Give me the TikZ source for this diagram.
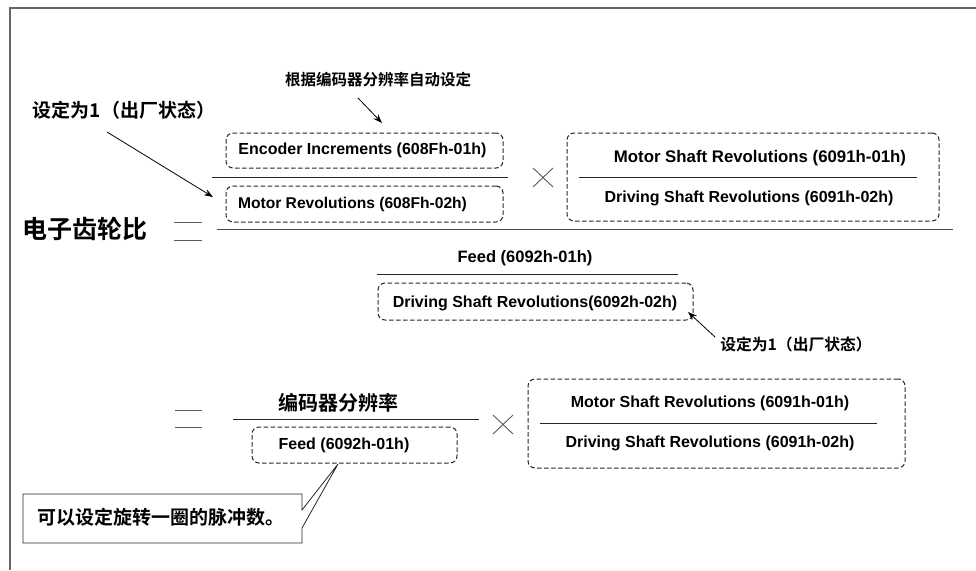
\documentclass[tikz,border=0pt]{standalone}
\usepackage{fontspec}
\setmainfont{Liberation Sans}
\newfontfamily\cjk{Noto Sans CJK SC Bold}
\usetikzlibrary{arrows.meta}
\tikzset{
  dbox/.style={draw=black!85, dashed, dash pattern=on 4.5pt off 2.5pt, rounded corners=7pt, line width=1pt, inner sep=0pt},
  lat/.style={font=\fontsize{#1}{#1}\selectfont\bfseries, inner sep=0pt},
  lat/.default=16,
  zh/.style={font=\fontsize{#1}{#1}\selectfont\cjk, inner sep=0pt},
  fline/.style={draw=black!85, line width=0.8pt},
  sym/.style={draw=black!65, line width=0.9pt},
  arr/.style={-{Stealth[length=9pt,width=6.5pt]}, line width=0.8pt, draw=black}
}
\begin{document}
\begin{tikzpicture}[x=1pt,y=-1pt]
\useasboundingbox (0,0) rectangle (976,570);
% frame
\draw[draw=black!60, line width=1.3pt] (976,8) -- (10,8) -- (10,570);

% top annotations
\node[zh=15.5] (auto) at (378,80) {根据编码器分辨率自动设定};
\node[zh=19] (set1) at (124,110) {设定为1（出厂状态）};

% first fraction
\node[dbox, minimum width=277pt, minimum height=35pt] (enc) at (364.5,150.5) {};
\node[lat] (enct) at (362.5,150) {Encoder Increments (608Fh-01h)};
\node[dbox, minimum width=277pt, minimum height=36pt] (mrev) at (364.5,204) {};
\node[lat=15.6] (mrevt) at (352.5,204) {Motor Revolutions (608Fh-02h)};
\coordinate (l1a) at (212,177); \coordinate (l1b) at (508,177);
\draw[fline] (l1a) -- (l1b);

% times
\coordinate (x1a) at (533,168); \coordinate (x1b) at (553,187);
\coordinate (x1c) at (533,187); \coordinate (x1d) at (553,168);
\draw[sym] (x1a) -- (x1b) (x1c) -- (x1d);

% shaft box
\node[dbox, minimum width=372pt, minimum height=88pt] (shaft) at (753,177) {};
\node[lat=16.8] (shaft1) at (760,158) {Motor Shaft Revolutions (6091h-01h)};
\node[lat] (shaft2) at (749,198) {Driving Shaft Revolutions (6091h-02h)};
\coordinate (l3a) at (579,177); \coordinate (l3b) at (917,177);
\draw[fline] (l3a) -- (l3b);

% left side
\node[zh=25] (egr) at (85,229) {电子齿轮比};
\coordinate (e1a) at (174,222); \coordinate (e1b) at (202,222);
\coordinate (e1c) at (174,240); \coordinate (e1d) at (202,240);
\draw[sym] (e1a) -- (e1b) (e1c) -- (e1d);

% big line
\coordinate (bla) at (217,229); \coordinate (blb) at (953,229);
\draw[draw=black!70, line width=1pt] (bla) -- (blb);

% denominator
\node[lat=16.5] (feed1) at (525,258) {Feed (6092h-01h)};
\coordinate (l4a) at (377,274); \coordinate (l4b) at (678,274);
\draw[fline] (l4a) -- (l4b);
\node[dbox, minimum width=315pt, minimum height=37pt] (drv) at (535.5,301.5) {};
\node[lat] (drvt) at (535,303) {Driving Shaft Revolutions(6092h-02h)};
\node[zh=15.8] (set2) at (796,344) {设定为1（出厂状态）};

% arrows
\coordinate (a1s) at (358,98); \coordinate (a1e) at (382,123);
\draw[arr] (a1s) -- (a1e);
\coordinate (a2s) at (107,132); \coordinate (a2e) at (213,197);
\draw[arr] (a2s) -- (a2e);
\coordinate (a3s) at (715,337); \coordinate (a3e) at (688,312);
\draw[arr] (a3s) -- (a3e);

% second equation
\coordinate (e2a) at (175,410); \coordinate (e2b) at (202,410);
\coordinate (e2c) at (175,427); \coordinate (e2d) at (202,427);
\draw[sym] (e2a) -- (e2b) (e2c) -- (e2d);
\node[zh=20] (res) at (338,403) {编码器分辨率};
\coordinate (l5a) at (233,419); \coordinate (l5b) at (479,419);
\draw[fline] (l5a) -- (l5b);
\node[dbox, minimum width=205pt, minimum height=36pt] (feedb) at (354.5,445) {};
\node[lat] (feed2) at (344,445) {Feed (6092h-01h)};

\coordinate (x2a) at (493,415); \coordinate (x2b) at (513,434);
\coordinate (x2c) at (493,434); \coordinate (x2d) at (513,415);
\draw[sym] (x2a) -- (x2b) (x2c) -- (x2d);

\node[dbox, minimum width=377pt, minimum height=89pt] (shaftb) at (716.5,423.5) {};
\node[lat] (shaftb1) at (710,403) {Motor Shaft Revolutions (6091h-01h)};
\node[lat] (shaftb2) at (710,443) {Driving Shaft Revolutions (6091h-02h)};
\coordinate (l6a) at (540,423); \coordinate (l6b) at (877,423);
\draw[fline] (l6a) -- (l6b);

% callout
\coordinate (tip) at (338,464);
\draw[draw=black!85, line width=0.8pt, fill=white] (23,494) -- (302,494) -- (302,510) -- (tip) -- (302,528) -- (302,543) -- (23,543) -- cycle;
\node[zh=19] (note) at (161,517) {可以设定旋转一圈的脉冲数。};
\end{tikzpicture}
\end{document}
